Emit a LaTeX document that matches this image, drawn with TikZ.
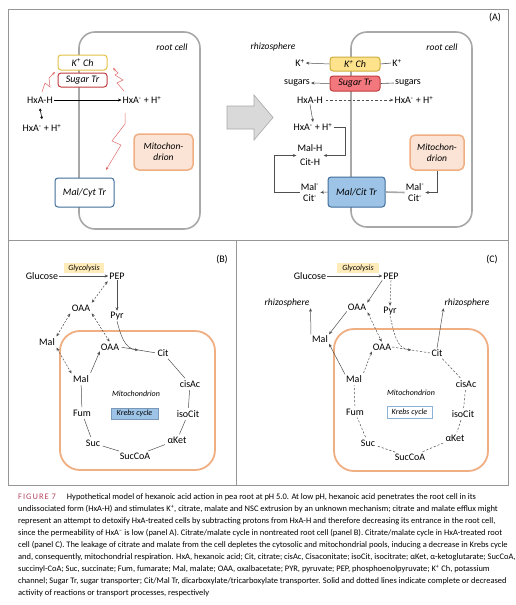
\documentclass[tikz,border=0pt]{standalone}
\usepackage{fontspec}
\setmainfont{Carlito}
\usetikzlibrary{arrows.meta,calc}
\definecolor{panelgray}{RGB}{150,150,150}
\definecolor{cellgray}{RGB}{168,168,168}
\definecolor{kyellow}{RGB}{228,192,70}
\definecolor{kfill}{RGB}{255,226,140}
\definecolor{sugred}{RGB}{192,60,60}
\definecolor{sugfill}{RGB}{242,120,125}
\definecolor{trblue}{RGB}{65,110,155}
\definecolor{trfill}{RGB}{157,195,230}
\definecolor{mitofill}{RGB}{251,228,214}
\definecolor{mitodraw}{RGB}{240,175,130}
\definecolor{zig}{RGB}{225,105,105}
\definecolor{glyfill}{RGB}{255,236,185}
\definecolor{figred}{RGB}{185,70,95}
\definecolor{arrgray}{RGB}{80,80,80}
\begin{document}
\begin{tikzpicture}[x=1pt,y=-1pt,
  lab/.style={font=\fontsize{10}{12}\selectfont, inner sep=1pt, align=center},
  itl/.style={font=\fontsize{9.5}{11}\selectfont\itshape, inner sep=1pt},
  smit/.style={font=\fontsize{8}{10}\selectfont\itshape, inner sep=0pt},
  tbox/.style={font=\fontsize{10}{12}\selectfont\itshape, inner sep=0pt, rounded corners=3pt, line width=1pt},
  arr/.style={-{Stealth[length=3.5pt,width=3pt]}, line width=0.5pt, draw=arrgray},
  darr/.style={{Stealth[length=3.5pt,width=3pt]}-{Stealth[length=3.5pt,width=3pt]}, line width=0.5pt, draw=arrgray, dash pattern=on 2pt off 1.5pt},
  dsh/.style={line width=0.5pt, draw=arrgray, dash pattern=on 2.2pt off 1.8pt},
  cyc/.style={line width=0.5pt, draw=arrgray, shorten >=1.5pt, shorten <=1.5pt},
  zz/.style={draw=zig, line width=0.5pt, -{Stealth[length=3pt,width=2.5pt]}},
  panel/.style={draw=panelgray, line width=0.8pt},
  cell/.style={draw=cellgray, line width=1.6pt, rounded corners=16pt},
  mitobox/.style={draw=mitodraw, fill=mitofill, line width=1.5pt, rounded corners=5pt, font=\fontsize{9.5}{11}\selectfont\itshape, align=center, inner sep=0pt},
  mitorect/.style={draw=mitodraw, line width=1.8pt, rounded corners=20pt},
  capl/.style={anchor=west, inner sep=0pt, font=\fontsize{8.45}{9}\selectfont}
]
\useasboundingbox (0,0) rectangle (515,605);
\fill[white] (0,0) rectangle (515,605);
% panels
\draw[panel] (8,9) rectangle (508,240);
\draw[panel] (8,240) rectangle (236,485);
\draw[panel] (236,240) rectangle (508,485);
\node[lab] (labA) at (495,18) {(A)};
\node[lab] (labB) at (222,260) {(B)};
\node[lab] (labC) at (492,260) {(C)};

% ---------- Panel A left ----------
\draw[cell] (79,32) rectangle (200,229);
\node[itl] (rcL) at (172,47) {root cell};
\node[tbox, draw=kyellow, fill=white, minimum width=49pt, minimum height=15pt] (kchL) at (82.5,62.5) {K\textsuperscript{+} Ch};
\node[tbox, draw=sugred, fill=white, minimum width=49pt, minimum height=14pt] (sugL) at (82.5,80) {Sugar Tr};
\node[lab] (hxahL) at (40,100) {HxA-H};
\node[lab] (hxaiL) at (142,100) {HxA\textsuperscript{-} + H\textsuperscript{+}};
\draw[arr, draw=black] (hxahL) -- (hxaiL);
\node[lab] (hxadL) at (42,128) {HxA\textsuperscript{-} + H\textsuperscript{+}};
\draw[{Stealth[length=2.5pt,width=3pt]}-{Stealth[length=2.5pt,width=3pt]}, line width=0.6pt] ([yshift=-4pt]hxahL.south) -- ([yshift=4pt]hxadL.north);
\node[mitobox, minimum width=59pt, minimum height=36pt] (mitoL) at (163.5,152) {Mitochon-\\drion};
\node[tbox, draw=trblue, fill=white, minimum width=59pt, minimum height=29pt] (mctL) at (84.5,192.5) {Mal/Cyt Tr};
% zigzags
\coordinate (z1s) at (42,92);
\coordinate (z2s) at (124,91);
\coordinate (z3s) at (125,113);
\draw[zz] (z1s) -- (45,83) -- (50,87) -- (49,78) -- (55,72);
\draw[zz] (z2s) -- (117,83) -- (123,80) -- (115,75) -- (118,73) -- (113,68);
\draw[zz] (z3s) -- (125,124) -- (112,141) -- (121,145) -- (106,170);

% big arrow
\draw[draw=cellgray, fill=black!15, line width=0.6pt] (227,106) -- (254,106) -- (254,95) -- (273,117.5) -- (254,140) -- (254,129) -- (227,129) -- cycle;

% ---------- Panel A right ----------
\draw[cell] (351,32) rectangle (472,227);
\node[itl] (rhzA) at (273,47) {rhizosphere};
\node[itl] (rcR) at (442,47) {root cell};
\node[tbox, draw=kyellow!90!black, fill=kfill, minimum width=50pt, minimum height=14pt] (kchR) at (355,64) {K\textsuperscript{+} Ch};
\node[tbox, draw=sugred, fill=sugfill, minimum width=50pt, minimum height=15pt] (sugR) at (355,83.5) {Sugar Tr};
\node[lab] (kL) at (300,63) {K\textsuperscript{+}};
\node[lab] (kR) at (397,63) {K\textsuperscript{+}};
\node[lab] (sL) at (297,83) {sugars};
\node[lab] (sR) at (408,83) {sugars};
\draw[arr] (kchR.west) -- (kL.east);
\draw[arr] (sugR.west) -- (sL.east);
\draw[line width=0.6pt, draw=arrgray] (kchR.east) -- (kR.west);
\draw[line width=0.6pt, draw=arrgray] (sugR.east) -- (sR.west);
\node[lab] (hxahR) at (310,100) {HxA-H};
\node[lab] (hxaiR) at (414,100) {HxA\textsuperscript{-} + H\textsuperscript{+}};
\draw[arr, dash pattern=on 2.5pt off 2pt, shorten <=2pt] (hxahR) -- (hxaiR);
\node[lab] (hxadR) at (313,127) {HxA\textsuperscript{-} + H\textsuperscript{+}};
\draw[arr] (hxahR.south) -- (hxadR.north);
\node[lab, font=\fontsize{10}{14}\selectfont] (malhR) at (310,155.5) {Mal-H\\Cit-H};
\node[lab, font=\fontsize{10}{11.5}\selectfont] (malmL) at (310,192.5) {Mal\textsuperscript{-}\\Cit\textsuperscript{-}};
\node[tbox, draw=trblue, fill=trfill, minimum width=57pt, minimum height=30pt] (mctR) at (356.5,192) {Mal/Cit Tr};
\node[lab, font=\fontsize{10}{11.5}\selectfont] (malmR) at (415,192.5) {Mal\textsuperscript{-}\\Cit\textsuperscript{-}};
\node[mitobox, minimum width=54pt, minimum height=35pt] (mitoR) at (437,152.5) {Mitochon-\\drion};
\coordinate (c1) at (345,127);
\coordinate (c2) at (274,192.5);
\draw[arr] (hxadR.east) -- (c1) |- (malhR.east);
\draw[arr] (malmL.west) -- (c2) |- (malhR.west);
\draw[arr] (mctR.west) -- (malmL.east);
\draw[draw=cellgray, line width=1.6pt] (mctR.east) -- (malmR.west);
\draw[arr] (mitoR.south) |- (malmR.east);

% ---------- Panel B ----------
\draw[mitorect] (60,331) rectangle (215,470);
\node[smit, fill=glyfill, minimum width=40pt, minimum height=10pt] (glyB) at (84,268) {Glycolysis};
\node[lab] (gluB) at (42,276) {Glucose};
\node[lab] (pepB) at (117,276) {PEP};
\node[lab] (oaacB) at (81,308) {OAA};
\node[lab] (pyrB) at (117,316) {Pyr};
\node[lab] (malcB) at (47,342) {Mal};
\node[lab] (oaamB) at (110,347) {OAA};
\node[lab] (citB) at (163,353) {Cit};
\node[lab] (cisB) at (190,384) {cisAc};
\node[lab] (isoB) at (188,414) {isoCit};
\node[lab] (akB) at (177,440) {αKet};
\node[lab] (sccB) at (135,456) {SucCoA};
\node[lab] (sucB) at (93,443) {Suc};
\node[lab] (fumB) at (82,413) {Fum};
\node[lab] (malmB) at (81,379) {Mal};
\node[smit] (mitoB) at (136,394) {Mitochondrion};
\node[smit, fill=trfill, draw=trblue!70, line width=0.4pt, minimum width=47pt, minimum height=11pt] (krebsB) at (134.5,413.5) {Krebs cycle};
\draw[arr] (gluB.east) -- (pepB.west);
\draw[arr] (pepB.south) -- (pyrB.north);
\draw[darr, shorten <=1pt, shorten >=1pt] (pepB.south west) -- (oaacB.north east);
\draw[darr, shorten <=1pt, shorten >=1pt] (oaacB.south west) -- (malcB.north east);
\draw[darr, shorten <=1pt, shorten >=1pt] (oaacB.south east) -- (oaamB.north);
\draw[darr, shorten <=1pt, shorten >=1pt] (malcB.south east) -- (malmB.north west);
\coordinate (mB) at ($(oaamB.east)!0.5!(citB.west)$);
\draw[cyc] (oaamB.east) -- (citB.west);
\draw[arr] (pyrB.south) to[out=-75,in=175] (mB);
\draw[cyc] (citB) -- (cisB);
\draw[cyc] (cisB) -- (isoB);
\draw[cyc] (isoB) -- (akB);
\draw[cyc] (akB) -- (sccB);
\draw[cyc] (sccB) -- (sucB);
\draw[cyc] (sucB) -- (fumB);
\draw[cyc] (fumB) -- (malmB);
\draw[arr, shorten <=1.5pt] (malmB.north east) -- (oaamB.south west);

% ---------- Panel C ----------
\draw[mitorect] (334,329) rectangle (488,471);
\node[smit, fill=glyfill, minimum width=42pt, minimum height=10pt] (glyC) at (358,268) {Glycolysis};
\node[lab] (gluC) at (310,276) {Glucose};
\node[lab] (pepC) at (391,276) {PEP};
\node[lab] (oaacC) at (357,307) {OAA};
\node[lab] (pyrC) at (390,311) {Pyr};
\node[itl] (rzL) at (287,303) {rhizosphere};
\node[itl] (rzR) at (467,303) {rhizosphere};
\node[lab] (malcC) at (320,339) {Mal};
\node[lab] (oaamC) at (382,347) {OAA};
\node[lab] (citC) at (437,353) {Cit};
\node[lab] (cisC) at (466,384) {cisAc};
\node[lab] (isoC) at (463,414) {isoCit};
\node[lab] (akC) at (455,438) {αKet};
\node[lab] (sccC) at (410,457) {SucCoA};
\node[lab] (sucC) at (368,443) {Suc};
\node[lab] (fumC) at (355,412) {Fum};
\node[lab] (malmC) at (354,379) {Mal};
\node[smit] (mitoC) at (411,393) {Mitochondrion};
\node[smit, fill=white, draw=trfill!80!trblue, line width=0.6pt, minimum width=45pt, minimum height=12pt] (krebsC) at (409.5,412) {Krebs cycle};
\draw[arr] (gluC.east) -- (pepC.west);
\draw[arr, dash pattern=on 2pt off 1.5pt] (pepC.south) -- (pyrC.north);
\draw[arr] (pepC.south west) -- (oaacC.north east);
\draw[arr] (oaacC.south west) -- (malcC.north east);
\draw[arr] (malcC.north west) -- (rzL.south east);
\draw[darr, shorten <=1pt, shorten >=1pt] (oaacC.south east) -- (oaamC.north);
\draw[arr] (malmC.north west) -- (malcC.south east);
\draw[arr] (citC.north) -- (rzR.south west);
\coordinate (mC) at ($(oaamC.east)!0.5!(citC.west)$);
\draw[dsh] (oaamC.east) -- (citC.west);
\draw[arr, dash pattern=on 2pt off 1.5pt] (pyrC.south) to[out=-75,in=175] (mC);
\draw[cyc, dsh] (citC) -- (cisC);
\draw[cyc, dsh] (cisC) -- (isoC);
\draw[cyc, dsh] (isoC) -- (akC);
\draw[cyc, dsh] (akC) -- (sccC);
\draw[cyc, dsh] (sccC) -- (sucC);
\draw[cyc, dsh] (sucC) -- (fumC);
\draw[cyc, dsh] (fumC) -- (malmC);
\draw[arr, dash pattern=on 2pt off 1.5pt, shorten <=1.5pt] (malmC.north east) -- (oaamC.south west);

% ---------- Caption ----------
\node[capl] (cap1) at (18,497) {{\color{figred}\addfontfeatures{LetterSpace=12}FIGURE 7}\hspace{1.3em}Hypothetical model of hexanoic acid action in pea root at pH 5.0. At low pH, hexanoic acid penetrates the root cell in its};
\node[capl] (cap2) at (18,509) {undissociated form (HxA-H) and stimulates K\textsuperscript{+}, citrate, malate and NSC extrusion by an unknown mechanism; citrate and malate efflux might};
\node[capl] (cap3) at (18,521) {represent an attempt to detoxify HxA-treated cells by subtracting protons from HxA-H and therefore decreasing its entrance in the root cell,};
\node[capl] (cap4) at (18,533) {since the permeability of HxA\textsuperscript{−} is low (panel A). Citrate/malate cycle in nontreated root cell (panel B). Citrate/malate cycle in HxA-treated root};
\node[capl] (cap5) at (18,545) {cell (panel C). The leakage of citrate and malate from the cell depletes the cytosolic and mitochondrial pools, inducing a decrease in Krebs cycle};
\node[capl] (cap6) at (18,557) {and, consequently, mitochondrial respiration. HxA, hexanoic acid; Cit, citrate; cisAc, Cisaconitate; isoCit, isocitrate; αKet, α-ketoglutarate; SucCoA,};
\node[capl] (cap7) at (18,569) {succinyl-CoA; Suc, succinate; Fum, fumarate; Mal, malate; OAA, oxalbacetate; PYR, pyruvate; PEP, phosphoenolpyruvate; K\textsuperscript{+} Ch, potassium};
\node[capl] (cap8) at (18,581) {channel; Sugar Tr, sugar transporter; Cit/Mal Tr, dicarboxylate/tricarboxylate transporter. Solid and dotted lines indicate complete or decreased};
\node[capl] (cap9) at (18,593) {activity of reactions or transport processes, respectively};
\end{tikzpicture}
\end{document}
